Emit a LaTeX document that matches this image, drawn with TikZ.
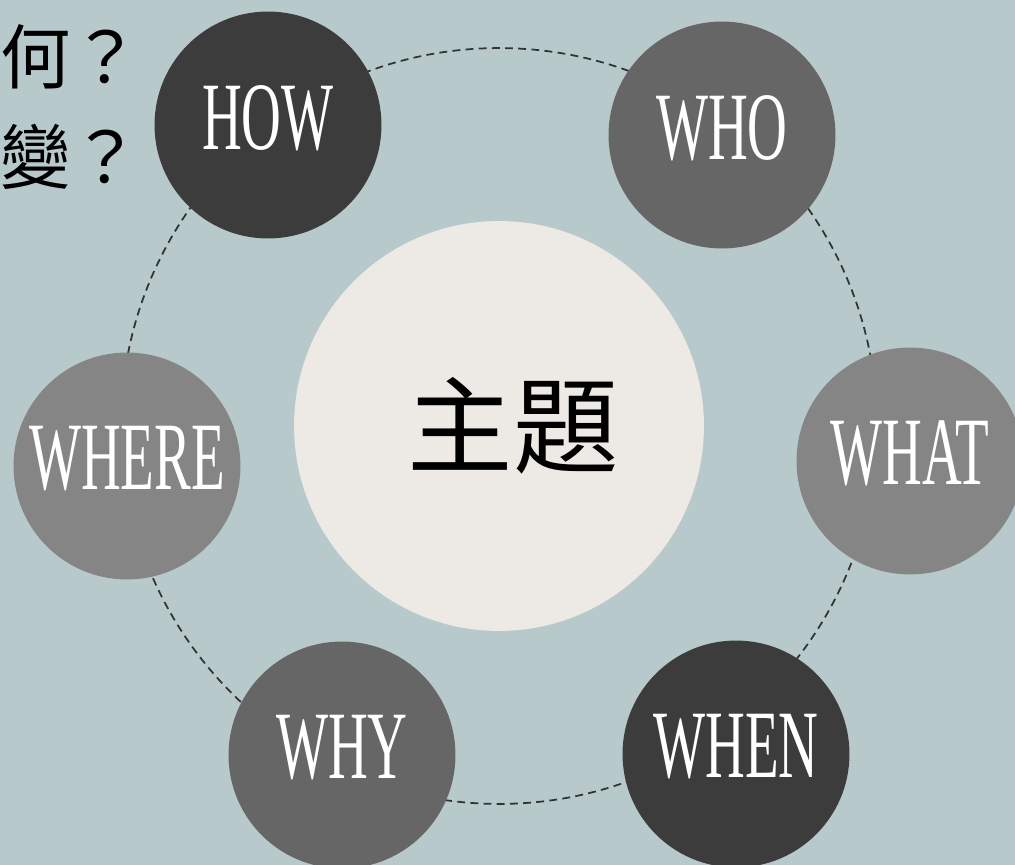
\documentclass[tikz,border=0pt]{standalone}
\usepackage{fontspec}
\setmainfont{Liberation Serif}
\newfontfamily\narrowfont[FakeStretch=0.57]{Liberation Serif}
\newfontfamily\cjkfont{Noto Sans CJK TC}
\definecolor{bgblue}{HTML}{B8C9CB}
\definecolor{darkball}{HTML}{3C3C3C}
\definecolor{midball}{HTML}{666666}
\definecolor{lightball}{HTML}{858585}
\definecolor{topicfill}{HTML}{EDE9E4}

\begin{document}
\begin{tikzpicture}[x=0.02cm, y=-0.02cm,
	ball/.style={circle, minimum size=4.54cm, inner sep=0pt, text=white, text depth=9pt, font=\narrowfont\fontsize{55}{55}\selectfont},
	question/.style={anchor=west, inner sep=0pt, font=\cjkfont\fontsize{40}{40}\selectfont}]
\fill[bgblue] (0,0) rectangle (1015,865);
\useasboundingbox (0,0) rectangle (1015,865);
\node[circle, draw=black!80, dash pattern=on 4.5pt off 3pt, line width=1pt, minimum size=15.12cm, inner sep=0pt] (ring) at (499,426) {};
\node[circle, fill=topicfill, minimum size=8.2cm, font=\cjkfont\fontsize{60}{60}\selectfont] (topic) at (499,426) {\hspace*{16pt}主題};
\node[ball, fill=darkball] (how) at (268,125) {HOW};
\node[ball, fill=midball] (who) at (722,135) {WHO};
\node[ball, fill=lightball] (where) at (127,466) {WHERE};
\node[ball, fill=lightball] (what) at (910,461) {WHAT};
\node[ball, fill=midball] (why) at (342,755) {WHY};
\node[ball, fill=darkball] (when) at (736,754) {WHEN};
\node[question] (q1) at (0,57) {何？};
\node[question] (q2) at (0,157) {變？};
\end{tikzpicture}
\end{document}
